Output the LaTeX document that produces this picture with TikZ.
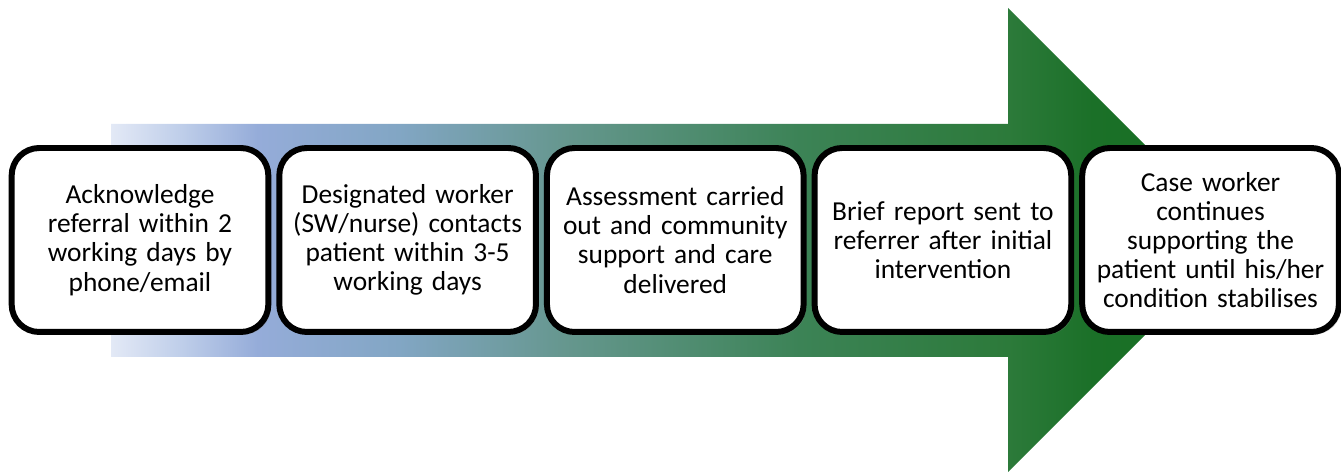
\documentclass[tikz,border=0pt]{standalone}
\usepackage{fontspec}
\setmainfont{Carlito}
\usepackage{xcolor}
\usepackage{tikz}
\usetikzlibrary{positioning,shadows}

\definecolor{pathA}{HTML}{E3E9F6}
\definecolor{pathB}{HTML}{C0CFEA}
\definecolor{pathC}{HTML}{95ACD9}
\definecolor{pathD}{HTML}{82A6C4}
\definecolor{pathE}{HTML}{66978F}
\definecolor{pathF}{HTML}{3C8356}
\definecolor{pathG}{HTML}{2C7A3A}
\definecolor{pathH}{HTML}{1B7028}
\definecolor{pathI}{HTML}{157020}

\pgfdeclarehorizontalshading{carepath}{100bp}{%
  color(0bp)=(pathA); color(25bp)=(pathA); color(28bp)=(pathB);
  color(31.5bp)=(pathC); color(37.75bp)=(pathD); color(45bp)=(pathE);
  color(55.5bp)=(pathF); color(64.75bp)=(pathG); color(68.5bp)=(pathH);
  color(75bp)=(pathI); color(100bp)=(pathI)}

\begin{document}
\begin{tikzpicture}%
                    [x=0.02cm, y=0.02cm,
                    node distance=0.1cm,
                    stage/.style={draw=black, line width=3.4pt, fill=white,
                                  rounded corners=0.55cm,
                                  minimum width=5.08cm, minimum height=3.68cm,
                                  text width=4.9cm, align=center,
                                  font=\fontsize{15.6pt}{16.6pt}\selectfont,
                                  drop shadow={shadow xshift=1.5pt, shadow yshift=-1.5pt,
                                               opacity=0.35}},
                    bigarrow/.style={shading=carepath}]
                \useasboundingbox (0,0) rectangle (1341,472);
                %% The big arrow behind the steps
                \shade[bigarrow] (111,348) -- (1008,348) -- (1008,464) -- (1240,232)
                    -- (1008,0) -- (1008,115) -- (111,115) -- cycle;
                %%
                %% The steps
                %%
                \node[stage] (ack) at (140,232) {Acknowledge\\ referral within 2\\ working days by\\ phone/email};
                \node[stage, right=of ack] (contact) {Designated worker\\ (SW/nurse) contacts\\ patient within 3-5\\ working days};
                \node[stage, right=of contact] (assess) {Assessment carried\\ out and community\\ support and care\\ delivered};
                \node[stage, right=of assess] (report) {Brief report sent to\\ referrer after initial\\ intervention};
                \node[stage, right=of report] (support) {Case worker\\ continues\\ supporting the\\ patient until his/her\\ condition stabilises};
\end{tikzpicture}
\end{document}
